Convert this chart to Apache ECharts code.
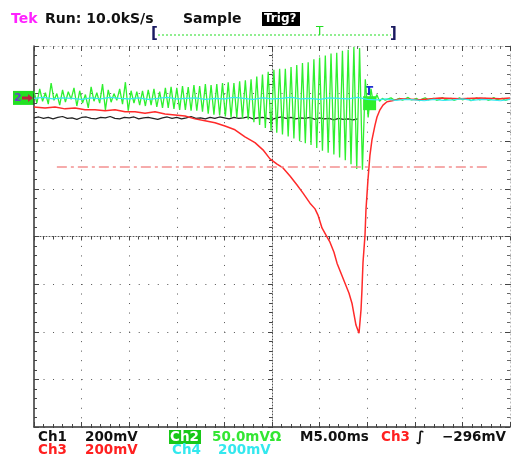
<!DOCTYPE html>
<html>
<head>
<meta charset="utf-8">
<script src="https://cdn.jsdelivr.net/npm/echarts@6/dist/echarts.min.js"></script>
<style>
html,body{margin:0;padding:0;background:#fff;}
#main{width:512px;height:456px;}
</style>
</head>
<body>
<div id="main"></div>
<script>
// time in ms from screen centre, amplitudes in screen divisions
var blackT0 = -25, blackDt = 0.5;
var blackV = [2.49, 2.51, 2.48, 2.50, 2.47, 2.50, 2.52, 2.48, 2.49, 2.46,
    2.50, 2.51, 2.48, 2.47, 2.50, 2.49, 2.52, 2.48, 2.47, 2.50,
    2.49, 2.51, 2.47, 2.49, 2.50, 2.48, 2.46, 2.49, 2.51, 2.48,
    2.50, 2.47, 2.49, 2.52, 2.48, 2.49, 2.47, 2.50, 2.48, 2.51,
    2.49, 2.47, 2.50, 2.48, 2.49, 2.51, 2.47, 2.49, 2.50, 2.48,
    2.46, 2.49, 2.51, 2.48, 2.50, 2.47, 2.49, 2.48, 2.50, 2.46,
    2.49, 2.47, 2.48, 2.45, 2.48, 2.46, 2.47, 2.45, 2.47];

var cyanT0 = -25, cyanDt = 1;
var cyanV = [2.90, 2.92, 2.89, 2.91, 2.90, 2.88, 2.91, 2.89, 2.92, 2.90,
    2.89, 2.91, 2.88, 2.90, 2.92, 2.89, 2.90, 2.91, 2.88, 2.90,
    2.89, 2.92, 2.90, 2.88, 2.91, 2.89, 2.90, 2.92, 2.89, 2.90,
    2.88, 2.91, 2.90, 2.89, 2.92, 2.88, 2.87, 2.89, 2.86, 2.88,
    2.87, 2.85, 2.88, 2.86, 2.87, 2.89, 2.86, 2.88, 2.87, 2.85, 2.88];

var greenT0 = -25, greenDt = 0.3;
var greenV = [
    3.05, 2.80, 3.10, 2.84, 3.02, 2.78, 3.22, 2.86, 3.00, 2.76, 3.08, 2.82, 3.04, 2.88, 3.12, 2.74,
    3.06, 2.80, 2.98, 2.70, 3.14, 2.84, 3.02, 2.80, 3.20, 2.66, 3.08, 2.82, 3.00, 2.86, 3.10, 2.78,
    3.24, 2.64, 3.06, 2.80, 3.04,
    2.76, 3.06, 2.74, 3.08, 2.76, 3.10, 2.72, 3.04, 2.70, 3.12, 2.70, 3.14, 2.68, 3.12, 2.66, 3.16,
    2.66, 3.14, 2.64, 3.18, 2.64, 3.16, 2.62, 3.20,
    2.58, 3.18, 2.56, 3.20, 2.54, 3.22, 2.52, 3.24, 2.50, 3.22, 2.50, 3.26, 2.48, 3.28, 2.46,
    3.30, 2.40, 3.36, 2.34, 3.40, 2.28, 3.46, 2.22, 3.50, 2.18, 3.52, 2.14,
    3.52, 2.10, 3.56, 2.06, 3.60, 2.00, 3.64, 1.96, 3.66, 1.92, 3.72, 1.86, 3.76, 1.80, 3.80, 1.76,
    3.84, 1.72,
    3.86, 1.66, 3.90, 1.60, 3.92, 1.52, 3.98, 1.42, 3.96, 1.40,
    3.30, 2.50, 3.10, 2.72, 2.98, 2.84,
    2.90, 2.86, 2.89, 2.91, 2.87, 2.88, 2.90, 2.86, 2.89, 2.92, 2.87, 2.88, 2.90, 2.85, 2.89, 2.91,
    2.87, 2.89, 2.90, 2.86, 2.88, 2.92, 2.87, 2.89, 2.90, 2.86, 2.88, 2.91, 2.87, 2.89, 2.90, 2.85,
    2.88, 2.91, 2.87, 2.89, 2.90, 2.86, 2.88, 2.92, 2.87, 2.89, 2.90, 2.86, 2.88];

var redT = [-25.0, -23.84, -22.79, -21.74, -20.69, -19.64, -18.59, -17.54, -16.49, -15.44,
    -14.39, -13.34, -12.29, -11.24, -10.19, -9.14, -8.09, -7.04, -5.99, -4.94,
    -3.89, -2.84, -1.79, -0.95, -0.21, 0.53, 1.16, 1.89, 2.63, 3.26,
    3.99, 4.52, 4.83, 5.25, 5.67, 6.09, 6.51, 6.83, 7.25, 7.67,
    8.09, 8.40, 8.82, 9.14, 9.35, 9.45, 9.56, 9.77, 9.87, 10.08,
    10.29, 10.50, 10.82, 11.03, 11.34, 11.66, 12.08, 12.61, 13.45, 15.55,
    17.65, 19.75, 21.85, 23.95, 25.0];
var redV = [2.72, 2.70, 2.72, 2.68, 2.70, 2.66, 2.66, 2.64, 2.66, 2.62,
    2.62, 2.59, 2.62, 2.57, 2.55, 2.53, 2.47, 2.43, 2.39, 2.32,
    2.24, 2.09, 1.97, 1.82, 1.63, 1.52, 1.44, 1.27, 1.08, 0.91,
    0.70, 0.58, 0.45, 0.18, 0.03, -0.12, -0.33, -0.56, -0.77, -0.98,
    -1.19, -1.40, -1.86, -2.03, -1.54, -1.12, -0.54, 0.03, 0.56, 1.19,
    1.71, 2.03, 2.34, 2.51, 2.66, 2.76, 2.83, 2.85, 2.89, 2.87,
    2.91, 2.89, 2.91, 2.89, 2.91];

var trigLevel = 1.46;   // Ch3 trigger level, -296 mV
var trigLineFrom = -22.6, trigLineTo = 22.9;
var trigTime = 10.2;
var ch2Ground = 2.91;

function pairs(t0, dt, v) {
    return v.map(function (y, i) { return [t0 + i * dt, y]; });
}
function zip(t, v) {
    return t.map(function (x, i) { return [x, v[i]]; });
}

var FONT = '"DejaVu Sans", sans-serif';
function txt(x, y, s, color, size, weight) {
    return {
        type: 'text', x: x, y: y, silent: true,
        style: { text: s, fill: color, font: (weight || 'bold') + ' ' + size + 'px ' + FONT, textVerticalAlign: 'middle' }
    };
}

var dots = { color: '#555', type: [1, 8.52], width: 1 };

var myChart = echarts.init(document.getElementById('main'));

var option = {
    animation: false,
    backgroundColor: '#fff',
    grid: { left: 34, right: 2, top: 46, bottom: 29 },
    xAxis: [{
        type: 'value', min: -25, max: 25, interval: 5,
        axisLine: { onZero: true, lineStyle: { color: '#555', type: [1, 2] } },
        axisTick: { show: true, length: 4, lineStyle: { color: '#444' } },
        minorTick: { show: true, splitNumber: 5, length: 3, lineStyle: { color: '#444' } },
        axisLabel: { show: false },
        splitLine: { show: true, lineStyle: dots }
    }, {
        type: 'value', min: -25, max: 25, interval: 5, position: 'bottom',
        axisLine: { onZero: false, lineStyle: { color: '#333', width: 1.5 } },
        axisTick: { inside: true, length: 5, lineStyle: { color: '#444' } },
        minorTick: { show: true, splitNumber: 5, length: 3, lineStyle: { color: '#444' } },
        axisLabel: { show: false }, splitLine: { show: false }
    }, {
        type: 'value', min: -25, max: 25, interval: 5, position: 'top',
        axisLine: { onZero: false, lineStyle: { color: '#bbb', type: [1, 3] } },
        axisTick: { inside: true, length: 5, lineStyle: { color: '#444' } },
        minorTick: { show: true, splitNumber: 5, length: 3, lineStyle: { color: '#666' } },
        axisLabel: { show: false }, splitLine: { show: false }
    }],
    yAxis: [{
        type: 'value', min: -4, max: 4, interval: 1,
        axisLine: { onZero: true, lineStyle: { color: '#555', type: [1, 2] } },
        axisTick: { show: true, length: 4, lineStyle: { color: '#444' } },
        minorTick: { show: true, splitNumber: 5, length: 3, lineStyle: { color: '#444' } },
        axisLabel: { show: false },
        splitLine: { show: true, lineStyle: dots }
    }, {
        type: 'value', min: -4, max: 4, interval: 1, position: 'left',
        axisLine: { onZero: false, lineStyle: { color: '#333', width: 1.5 } },
        axisTick: { inside: true, length: 5, lineStyle: { color: '#444' } },
        minorTick: { show: true, splitNumber: 5, length: 3, lineStyle: { color: '#444' } },
        axisLabel: { show: false }, splitLine: { show: false }
    }, {
        type: 'value', min: -4, max: 4, interval: 1, position: 'right',
        axisLine: { onZero: false, lineStyle: { color: '#bbb', type: [1, 3] } },
        axisTick: { inside: true, length: 5, lineStyle: { color: '#444' } },
        minorTick: { show: true, splitNumber: 5, length: 3, lineStyle: { color: '#666' } },
        axisLabel: { show: false }, splitLine: { show: false }
    }],
    series: [{
        name: 'Ch1', type: 'line', showSymbol: false, silent: true,
        data: pairs(blackT0, blackDt, blackV),
        lineStyle: { color: '#222', width: 1.2 }
    }, {
        name: 'Ch2', type: 'line', showSymbol: false, silent: true,
        data: pairs(greenT0, greenDt, greenV),
        lineStyle: { color: '#2ef02e', width: 1.3 }
    }, {
        name: 'Ch3', type: 'line', showSymbol: false, silent: true,
        data: zip(redT, redV),
        lineStyle: { color: '#ff2a2a', width: 1.5 },
        markLine: {
            symbol: 'none', silent: true, label: { show: false },
            lineStyle: { color: '#f39090', type: [10, 4, 3, 4], width: 1.5 },
            emphasis: { disabled: true },
            data: [[{ coord: [trigLineFrom, trigLevel] }, { coord: [trigLineTo, trigLevel] }]]
        }
    }, {
        name: 'Ch4', type: 'line', showSymbol: false, silent: true,
        data: pairs(cyanT0, cyanDt, cyanV),
        lineStyle: { color: '#38e8f0', width: 1.2 }
    }]
};

myChart.setOption(option);

var tPos = myChart.convertToPixel({ gridIndex: 0 }, [trigTime, 3.03]);
var gPos = myChart.convertToPixel({ gridIndex: 0 }, [-25, ch2Ground]);

myChart.setOption({
    graphic: [
        txt(11, 19, 'Tek', '#ff22ff', 14),
        txt(45, 19, 'Run: 10.0kS/s', '#111', 14),
        txt(183, 19, 'Sample', '#111', 14),
        { type: 'rect', shape: { x: 262, y: 12, width: 38, height: 14 }, style: { fill: '#000' } },
        txt(264, 19, 'Trig?', '#fff', 12),
        txt(151, 34, '[', '#1a1a60', 15),
        { type: 'line', shape: { x1: 158, y1: 35, x2: 391, y2: 35 }, style: { stroke: '#22dd22', lineWidth: 1, lineDash: [2, 2] } },
        txt(316, 32, 'T', '#22dd22', 12, 'normal'),
        txt(390, 34, ']', '#1a1a60', 15),

        { type: 'rect', shape: { x: gPos[0] - 21, y: gPos[1] - 7, width: 21, height: 14 }, style: { fill: '#22e022' } },
        txt(gPos[0] - 20, gPos[1], '2', '#6a3cc8', 11),
        { type: 'polygon', shape: { points: [[gPos[0] - 12, gPos[1] - 1.5], [gPos[0] - 6, gPos[1] - 1.5], [gPos[0] - 6, gPos[1] - 4], [gPos[0] - 1, gPos[1]], [gPos[0] - 6, gPos[1] + 4], [gPos[0] - 6, gPos[1] + 1.5], [gPos[0] - 12, gPos[1] + 1.5]] }, style: { fill: '#c02040' } },

        { type: 'rect', shape: { x: tPos[0] - 6, y: tPos[1] + 4, width: 13, height: 14 }, style: { fill: '#2ef02e' } },
        txt(tPos[0] - 4, tPos[1], 'T', '#2030d0', 12),

        txt(38, 437, 'Ch1', '#111', 13.5),
        txt(85, 437, '200mV', '#111', 13.5),
        { type: 'rect', shape: { x: 169, y: 430, width: 32, height: 14 }, style: { fill: '#18c818' } },
        txt(170, 437, 'Ch2', '#fff', 13.5),
        txt(212, 437, '50.0mV\u03a9', '#33e633', 13.5),
        txt(300, 437, 'M5.00ms', '#111', 13.5),
        txt(381, 437, 'Ch3', '#ff2020', 13.5),
        txt(416, 437, '\u222b', '#111', 14),
        txt(442, 437, '\u2212296mV', '#111', 13.5),
        txt(38, 450, 'Ch3', '#ff2020', 13.5),
        txt(85, 450, '200mV', '#ff2020', 13.5),
        txt(172, 450, 'Ch4', '#33e8ee', 13.5),
        txt(218, 450, '200mV', '#33e8ee', 13.5)
    ]
});
</script>
</body>
</html>
